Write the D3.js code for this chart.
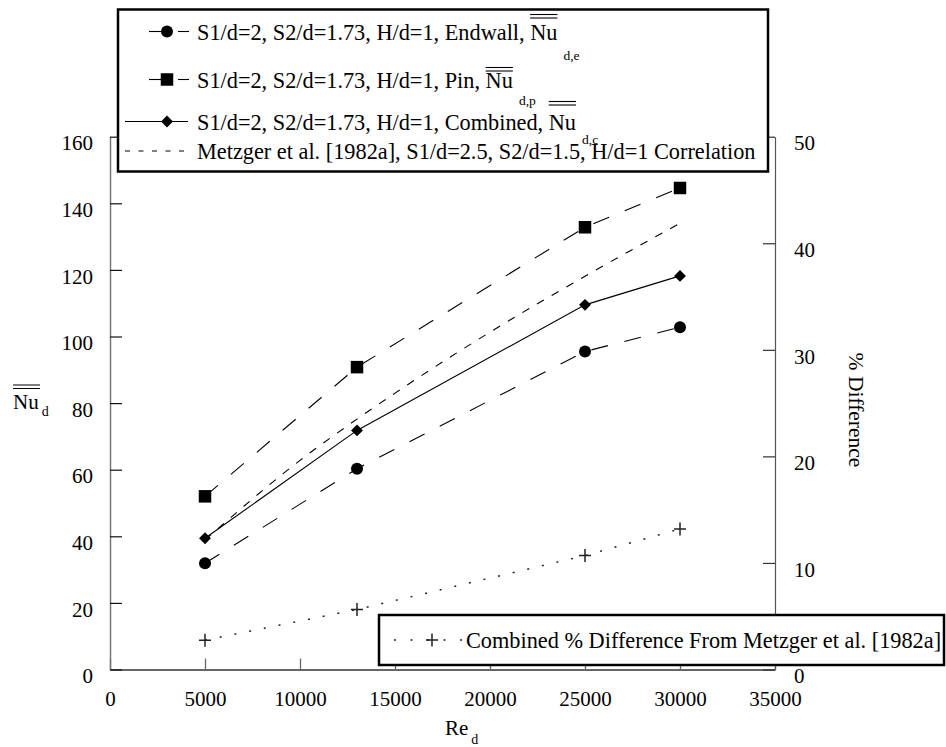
<!DOCTYPE html>
<html>
<head>
<meta charset="utf-8">
<script src="https://cdn.jsdelivr.net/npm/d3@7/dist/d3.min.js"></script>
<style>
  html, body { margin: 0; padding: 0; background: #fff; }
  svg { display: block; }
  text { font-family: "Liberation Serif", "Times New Roman", serif; fill: #000; }
</style>
</head>
<body>
<svg id="chart" width="946" height="747"></svg>
<script>
// Reynolds numbers of the measurements
const reynolds = [5000, 13000, 25000, 30000];
// Array-averaged Nusselt numbers, S1/d=2, S2/d=1.73, H/d=1
const nuEndwall  = [31.9, 60.3, 95.5, 102.8];
const nuPin      = [52.0, 90.8, 132.8, 144.6];
const nuCombined = [39.4, 71.8, 109.5, 118.2];
// Metzger et al. [1982a] correlation, S1/d=2.5, S2/d=1.5, H/d=1
const metzgerRe = [5000, 10000, 13000, 15000, 20000, 25000, 30000];
const metzgerNu = [38.9, 62.8, 75.2, 83.0, 101.3, 118.1, 134.0];
// Combined % difference from the correlation (right axis)
const pctDiff = [2.75, 5.63, 10.69, 13.19];

const xTicks = [0, 5000, 10000, 15000, 20000, 25000, 30000, 35000];
const yLeftTicks = [0, 20, 40, 60, 80, 100, 120, 140, 160];
const yRightTicks = [0, 10, 20, 30, 40, 50];

const svg = d3.select("#chart");
const FONT = 21;
const SERIF = "'Liberation Serif','Times New Roman',serif";

const x = d3.scaleLinear().domain([0, 35000]).range([110, 775]);
const yL = d3.scaleLinear().domain([0, 160]).range([669.5, 136.7]);
const yR = d3.scaleLinear().domain([0, 50]).range([669.5, 136.7]);

// ---- axes ----
const gx = svg.append("g").attr("transform", `translate(0,${yL(0)})`)
  .call(d3.axisBottom(x).tickValues(xTicks).tickFormat(d3.format("d"))
        .tickSizeInner(-11).tickSizeOuter(0).tickPadding(22));
const gl = svg.append("g").attr("transform", `translate(${x(0)},0)`)
  .call(d3.axisLeft(yL).tickValues(yLeftTicks).tickFormat(d3.format("d"))
        .tickSizeInner(-12).tickSizeOuter(0).tickPadding(17));
const gr = svg.append("g").attr("transform", `translate(${x(35000)},0)`)
  .call(d3.axisRight(yR).tickValues(yRightTicks).tickFormat(d3.format("d"))
        .tickSizeInner(-12).tickSizeOuter(0).tickPadding(19));

[gx, gl, gr].forEach(g => {
  g.selectAll("text").style("font-size", FONT + "px").style("font-family", SERIF).attr("fill", "#000");
});
gl.selectAll("text").attr("dy", "0.63em");
gr.selectAll("text").attr("dy", "0.63em");
gx.select(".domain").attr("stroke", "#333").attr("stroke-width", 1.5);
gl.select(".domain").attr("stroke", "#777").attr("stroke-width", 1.5);
gr.select(".domain").attr("stroke", "#555").attr("stroke-width", 1.2);
gx.selectAll(".tick line").attr("stroke", "#666").attr("stroke-width", 1.3);
gl.selectAll(".tick line").attr("stroke", "#111").attr("stroke-width", 1.2);
gr.selectAll(".tick line").attr("stroke", "#333").attr("stroke-width", 1.2);

// axis titles
const nuTitle = svg.append("text").attr("x", 13).attr("y", 409).style("font-size", FONT + "px");
nuTitle.append("tspan").text("Nu");
nuTitle.append("tspan").attr("dx", 3).attr("dy", 7).style("font-size", "14px").text("d");
[385, 388.5].forEach(yy => {
  svg.append("line").attr("x1", 13).attr("x2", 40).attr("y1", yy).attr("y2", yy)
    .attr("stroke", "#000").attr("stroke-width", 1);
});

const reTitle = svg.append("text").attr("x", 445).attr("y", 735).style("font-size", FONT + "px");
reTitle.append("tspan").text("Re");
reTitle.append("tspan").attr("dx", 3).attr("dy", 9).style("font-size", "14px").text("d");

svg.append("text").attr("transform", "translate(849,410) rotate(90)")
  .attr("text-anchor", "middle").style("font-size", "21.5px").text("% Difference");

// ---- series ----
const lineL = d3.line().x(d => x(d[0])).y(d => yL(d[1]));
const curveL = d3.line().x(d => x(d[0])).y(d => yL(d[1])).curve(d3.curveMonotoneX);
const lineR = d3.line().x(d => x(d[0])).y(d => yR(d[1]));
const zip = (a, b) => a.map((v, i) => [v, b[i]]);

svg.append("path").datum(zip(metzgerRe, metzgerNu)).attr("d", curveL)
  .attr("fill", "none").attr("stroke", "#000").attr("stroke-width", 1.1).attr("stroke-dasharray", "8,9");
svg.append("path").datum(zip(reynolds, nuPin)).attr("d", lineL)
  .attr("fill", "none").attr("stroke", "#000").attr("stroke-width", 1.1).attr("stroke-dasharray", "17,17");
svg.append("path").datum(zip(reynolds, nuEndwall)).attr("d", lineL)
  .attr("fill", "none").attr("stroke", "#000").attr("stroke-width", 1.1).attr("stroke-dasharray", "17,17");
svg.append("path").datum(zip(reynolds, nuCombined)).attr("d", lineL)
  .attr("fill", "none").attr("stroke", "#000").attr("stroke-width", 1.1);
svg.append("path").datum(zip(reynolds, pctDiff)).attr("d", lineR)
  .attr("fill", "none").attr("stroke", "#222").attr("stroke-width", 1.5).attr("stroke-dasharray", "2,13");

const sym = {
  circle: d3.symbol().type(d3.symbolCircle).size(Math.PI * 6 * 6),
  square: d3.symbol().type(d3.symbolSquare).size(12.5 * 12.5),
  diamond: d3.symbol().type(d3.symbolSquare).size(8.4 * 8.4)
};
function markers(vals, kind, scale) {
  svg.append("g").selectAll("path").data(zip(reynolds, vals)).join("path")
    .attr("transform", d => `translate(${x(d[0])},${scale(d[1])})` + (kind === "diamond" ? " rotate(45)" : ""))
    .attr("d", sym[kind]()).attr("fill", "#000");
}
markers(nuEndwall, "circle", yL);
markers(nuPin, "square", yL);
markers(nuCombined, "diamond", yL);
svg.append("g").selectAll("path").data(zip(reynolds, pctDiff)).join("path")
  .attr("transform", d => `translate(${x(d[0])},${yR(d[1])})`)
  .attr("d", "M-6,0H6M0,-6.5V6.5").attr("stroke", "#222").attr("stroke-width", 1.5);

// ---- legend (Nusselt numbers) ----
const LF = 22.3;
const leg = svg.append("g");
leg.append("rect").attr("x", 118).attr("y", 9.5).attr("width", 650).attr("height", 162)
  .attr("fill", "#fff").attr("stroke", "#000").attr("stroke-width", 2.5);

const rows = [
  { base: 39.5, kind: "circle", label: "S1/d=2, S2/d=1.73, H/d=1, Endwall, ", sub: "d,e", subDy: 20, bars: [-25, -21.5] },
  { base: 87.5, kind: "square", label: "S1/d=2, S2/d=1.73, H/d=1, Pin, ", sub: "d,p", subDy: 17, bars: [-20, -16.5] },
  { base: 129.5, kind: "diamond", label: "S1/d=2, S2/d=1.73, H/d=1, Combined, ", sub: "d,c", subDy: 14, bars: [-28, -24.5] }
];
rows.forEach(r => {
  const cy = r.base - 8;
  if (r.kind === "diamond") {
    leg.append("line").attr("x1", 125).attr("x2", 188).attr("y1", cy).attr("y2", cy).attr("stroke", "#000").attr("stroke-width", 1.1);
  } else {
    leg.append("line").attr("x1", 149).attr("x2", 167).attr("y1", cy).attr("y2", cy).attr("stroke", "#000").attr("stroke-width", 1.1);
    leg.append("line").attr("x1", 178).attr("x2", 189).attr("y1", cy).attr("y2", cy).attr("stroke", "#000").attr("stroke-width", 1.1);
  }
  leg.append("path").attr("transform", `translate(167,${cy})` + (r.kind === "diamond" ? " rotate(45)" : ""))
    .attr("d", sym[r.kind]()).attr("fill", "#000");
  const t = leg.append("text").attr("x", 197).attr("y", r.base).style("font-size", LF + "px");
  t.append("tspan").text(r.label);
  const nu = t.append("tspan").text("Nu");
  t.append("tspan").attr("dx", 6).attr("dy", r.subDy).style("font-size", "13.5px").text(r.sub);
  // double bar over the Nu symbol
  const node = nu.node();
  const start = node.getStartPositionOfChar(0).x;
  const end = node.getEndPositionOfChar(1).x;
  r.bars.forEach(off => {
    leg.append("line").attr("x1", start).attr("x2", end).attr("y1", r.base + off).attr("y2", r.base + off)
      .attr("stroke", "#000").attr("stroke-width", 1.1);
  });
});
leg.append("line").attr("x1", 125).attr("x2", 190).attr("y1", 151).attr("y2", 151)
  .attr("stroke", "#000").attr("stroke-width", 1.1).attr("stroke-dasharray", "5,8.5");
leg.append("text").attr("x", 197).attr("y", 158.5).style("font-size", LF + "px")
  .text("Metzger et al. [1982a], S1/d=2.5, S2/d=1.5, H/d=1 Correlation");

// ---- legend (% difference) ----
const leg2 = svg.append("g");
leg2.append("rect").attr("x", 379).attr("y", 615).attr("width", 565).attr("height", 50)
  .attr("fill", "#fff").attr("stroke", "#000").attr("stroke-width", 2.5);
leg2.append("line").attr("x1", 394).attr("x2", 462).attr("y1", 640).attr("y2", 640)
  .attr("stroke", "#222").attr("stroke-width", 1.5).attr("stroke-dasharray", "2,14.5");
leg2.append("path").attr("transform", "translate(432,640)")
  .attr("d", "M-6,0H6M0,-6.5V6.5").attr("stroke", "#222").attr("stroke-width", 1.5);
leg2.append("text").attr("x", 466).attr("y", 648).style("font-size", LF + "px")
  .text("Combined % Difference From Metzger et al. [1982a]");
</script>
</body>
</html>
